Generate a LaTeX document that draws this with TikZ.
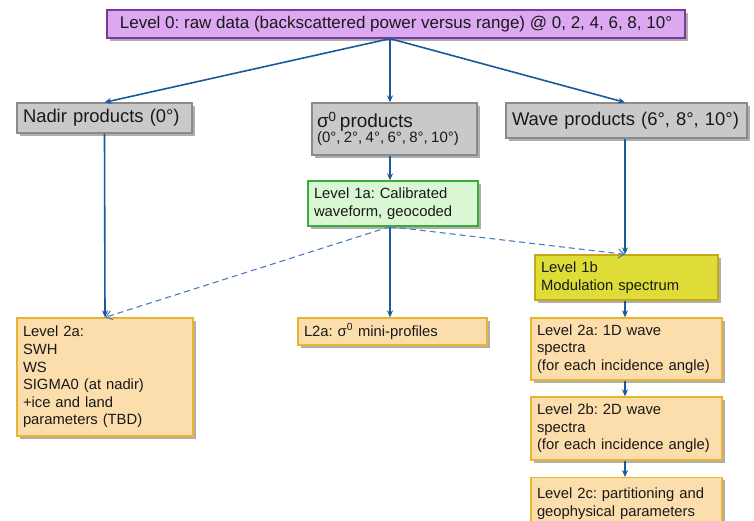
\documentclass[tikz,border=0pt]{standalone}
\usepackage{fontspec}
\setmainfont{Liberation Sans}
\usetikzlibrary{shadows,arrows.meta}
\frenchspacing
\definecolor{arrblue}{HTML}{1A5A9A}
\definecolor{dashblue}{HTML}{4A7EC0}
\definecolor{lavfill}{HTML}{DCA8F2}
\definecolor{lavdraw}{HTML}{7A3A9A}
\definecolor{grayfill}{HTML}{C9C9C9}
\definecolor{graydraw}{HTML}{8A8A8A}
\definecolor{greenfill}{HTML}{D8F7D2}
\definecolor{greendraw}{HTML}{3CAA3C}
\definecolor{yelfill}{HTML}{DEDC36}
\definecolor{yeldraw}{HTML}{C8A81A}
\definecolor{orfill}{HTML}{FCDDAC}
\definecolor{ordraw}{HTML}{E8B62E}
\tikzset{
  box/.style={draw, line width=1.3pt, inner xsep=6pt, inner ysep=2pt,
    drop shadow={shadow xshift=2.5pt, shadow yshift=-2.5pt, opacity=0.45, fill=black!70},
    align=left, anchor=center, text=black!90},
  lavbox/.style={box, fill=lavfill, draw=lavdraw, align=center},
  graybox/.style={box, fill=grayfill, draw=graydraw},
  greenbox/.style={box, fill=greenfill, draw=greendraw},
  yelbox/.style={box, fill=yelfill, draw=yeldraw},
  orbox/.style={box, fill=orfill, draw=ordraw},
  conn/.style={draw=arrblue, line width=1.6pt, -{Stealth[length=7pt,width=6pt]}},
  dconn/.style={draw=dashblue, line width=1.1pt, dash pattern=on 6pt off 4pt, -{Straight Barb[length=6pt,width=9pt]}},
  fa/.style={font=\fontsize{17}{19}\selectfont},
  fb/.style={font=\fontsize{18.4}{21}\selectfont},
  fc/.style={font=\fontsize{14.8}{17.6}\selectfont},
}
\begin{document}
\begin{tikzpicture}[x=1pt,y=-1pt]
\useasboundingbox (0,0) rectangle (754,520);
\clip (0,0) rectangle (754,520);
% nodes
\node[lavbox, fa, minimum width=578pt, minimum height=28pt] (l0) at (396,24)
  {Level 0: raw data (backscattered power versus range) @ 0, 2, 4, 6, 8, 10°};
\node[graybox, fb, minimum width=175pt, minimum height=30pt, text width=163pt] (nad) at (104.5,118)
  {Nadir products (0°)};
\node[graybox, minimum width=165pt, minimum height=52pt, text width=155pt, inner xsep=5pt] (sig) at (394.5,129)
  {{\fontsize{19}{20}\selectfont σ\textsuperscript{0} products}\\[-1pt]{\fontsize{15}{16}\selectfont (0°, 2°, 4°, 6°, 8°, 10°)}};
\node[graybox, fb, minimum width=241pt, minimum height=35pt, text width=229pt] (wav) at (626.5,120.5)
  {Wave products (6°, 8°, 10°)};
\node[greenbox, fc, minimum width=170pt, minimum height=45pt, text width=158pt] (l1a) at (393,203.5)
  {Level 1a: Calibrated\\waveform, geocoded};
\node[yelbox, fc, minimum width=183pt, minimum height=45pt, text width=171pt] (l1b) at (626.5,277.5)
  {Level 1b\\Modulation spectrum};
\node[orbox, fc, minimum width=176pt, minimum height=118pt, text width=164pt] (l2n) at (105,377)
  {Level 2a:\\SWH\\WS\\SIGMA0 (at nadir)\\+ice and land\\parameters (TBD)};
\node[orbox, fc, minimum width=189pt, minimum height=27pt, text width=177pt] (l2m) at (392.5,331.5)
  {L2a: σ\textsuperscript{0} mini-profiles};
\node[orbox, fc, minimum width=191pt, minimum height=62pt, text width=179pt] (l2a) at (626.5,349)
  {Level 2a: 1D wave\\spectra\\(for each incidence angle)};
\node[orbox, fc, minimum width=191pt, minimum height=63pt, text width=179pt] (l2b) at (626.5,428.5)
  {Level 2b: 2D wave\\spectra\\(for each incidence angle)};
\node[orbox, fc, minimum width=191pt, minimum height=52pt, text width=179pt, anchor=north] (l2c) at (626.5,477)
  {Level 2c: partitioning and\\geophysical parameters};
% connectors
\coordinate (s0) at (l0.south -| 390,0);
\draw[conn] (s0) -- (nad.north);
\draw[conn] (s0) -- (sig.north -| s0);
\draw[conn] (s0) -- (wav.north -| 625,0);
\draw[conn] (nad.south) -- (l2n.north);
\draw[conn] (sig.south -| s0) -- (l1a.north -| s0);
\draw[conn] (l1a.south -| s0) -- (l2m.north -| s0);
\draw[conn] (wav.south -| 625,0) -- (l1b.north -| 625,0);
\draw[conn] (l1b.south -| 625,0) -- (l2a.north -| 625,0);
\draw[conn] (l2a.south -| 625,0) -- (l2b.north -| 625,0);
\draw[conn] (l2b.south -| 625,0) -- (l2c.north -| 625,0);
\draw[dconn] (l1a.south -| s0) -- (l2n.north);
\draw[dconn] (l1a.south -| s0) -- (l1b.north -| 625,0);
\end{tikzpicture}
\end{document}
